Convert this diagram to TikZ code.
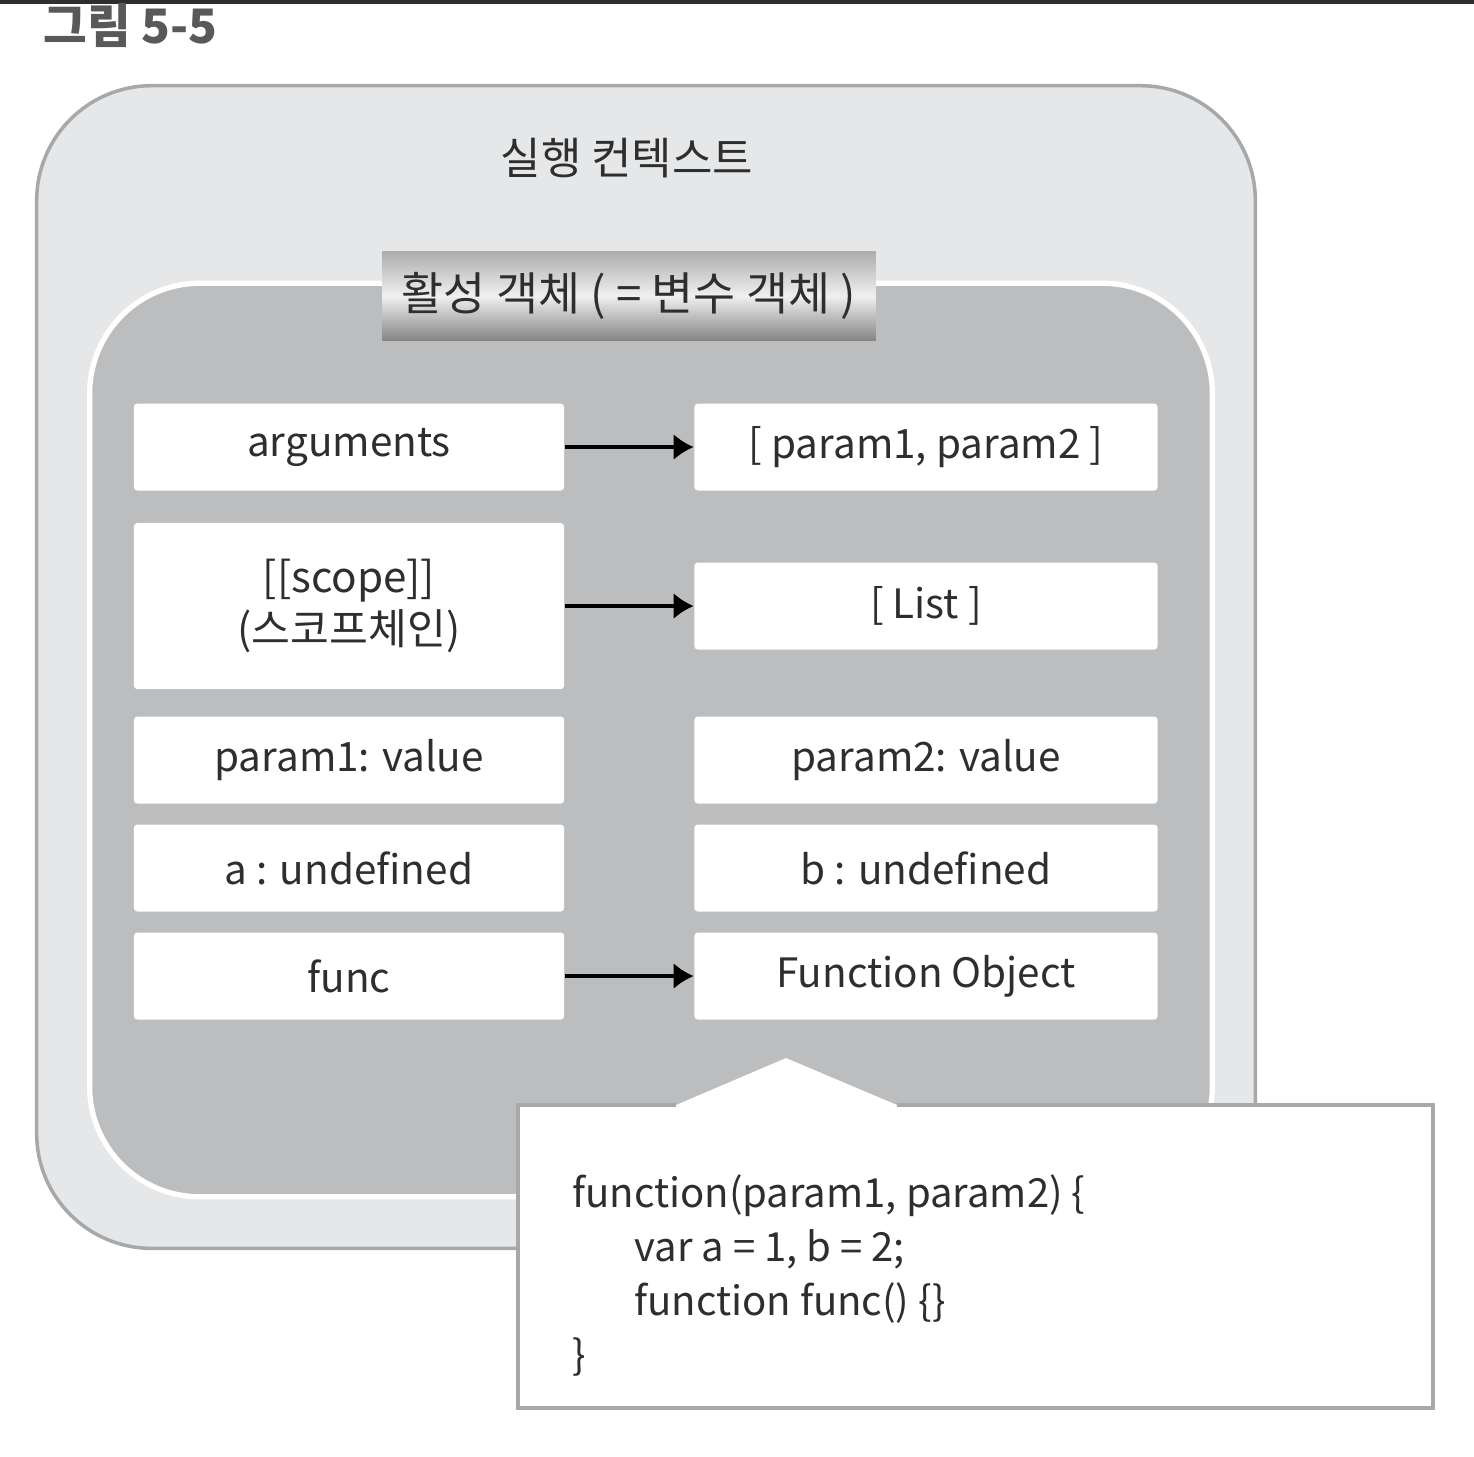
\documentclass[tikz,border=0pt]{standalone}
\usepackage{fontspec}
\setmainfont{Noto Sans CJK KR}
\usetikzlibrary{arrows.meta}
\definecolor{ctxgray}{HTML}{E6E7E8}
\definecolor{actgray}{HTML}{BCBDBF}
\definecolor{edgegray}{HTML}{A7A8AA}
\definecolor{inkgray}{HTML}{2E2E2E}
\begin{document}
\begin{tikzpicture}[x=0.01cm, y=-0.01cm, font=\fontsize{12.5}{15}\selectfont, text=inkgray,
    cell/.style={fill=white, rounded corners=1pt, minimum height=0.87cm, inner sep=0pt, font=\fontsize{11.5}{14.5}\selectfont},
    leftcell/.style={cell, minimum width=4.3cm},
    rightcell/.style={cell, minimum width=4.63cm},
    ptr/.style={line width=0.9pt, -{Latex[length=0.2cm, width=0.26cm]}}]
    \useasboundingbox (0,0) rectangle (1474,1456);
    \fill [inkgray] (0,0) rectangle (1474,4);
    \node [anchor=west, text=black!65, font=\fontsize{13.5}{15}\selectfont\bfseries] (fig) at (31,25) {그림 5-5};
    \node [draw=edgegray, line width=1pt, fill=ctxgray, rounded corners=1.15cm, minimum width=12.18cm, minimum height=11.62cm] (context) at (646,667) {};
    \node (ctxlabel) at (627,158) {실행 컨텍스트};
    \node [draw=white, line width=1.5pt, fill=actgray, rounded corners=1.1cm, minimum width=11.22cm, minimum height=9.13cm] (active) at (651,740) {};
    \node [top color=black!32, bottom color=black!48, middle color=black!6, minimum width=4.93cm, minimum height=0.88cm, inner sep=0pt, font=\fontsize{13}{15}\selectfont] (actlabel) at (629,296) {활성 객체 ( = 변수 객체 )};
    \node [leftcell] (args) at (349,447) {arguments};
    \node [rightcell] (params) at (926,447) {[ param1, param2 ]};
    \node [leftcell, minimum height=1.66cm, align=center, font=\fontsize{12}{15}\selectfont] (scope) at (349,606) {[[scope]]\\(스코프체인)};
    \node [rightcell] (list) at (926,606) {[ List ]};
    \node [leftcell] (pone) at (349,760) {param1: value};
    \node [rightcell] (ptwo) at (926,760) {param2: value};
    \node [leftcell] (vara) at (349,868) {a : undefined};
    \node [rightcell] (varb) at (926,868) {b : undefined};
    \node [leftcell] (func) at (349,976) {func};
    \node [rightcell] (funcobj) at (926,976) {Function Object};
    \draw [ptr] (args) -- (params);
    \draw [ptr] (scope) -- (list);
    \draw [ptr] (func) -- (funcobj);
    \coordinate (tip) at (786,1058);
    \fill [white] (518,1105) -- (676,1105) -- (tip) -- (897,1105) -- (1433,1105) -- (1433,1408) -- (518,1408) -- cycle;
    \draw [edgegray, line width=1pt] (676,1105) -- (518,1105) -- (518,1408) -- (1433,1408) -- (1433,1105) -- (897,1105);
    \node [anchor=north west, align=left, font=\fontsize{11.4}{15.4}\selectfont] (code) at (560,1162) {function(param1, param2) \{\\
      \hspace{0.62cm}var a = 1, b = 2;\\
      \hspace{0.62cm}function func() \{\}\\
      \}};
  \end{tikzpicture}
\end{document}
